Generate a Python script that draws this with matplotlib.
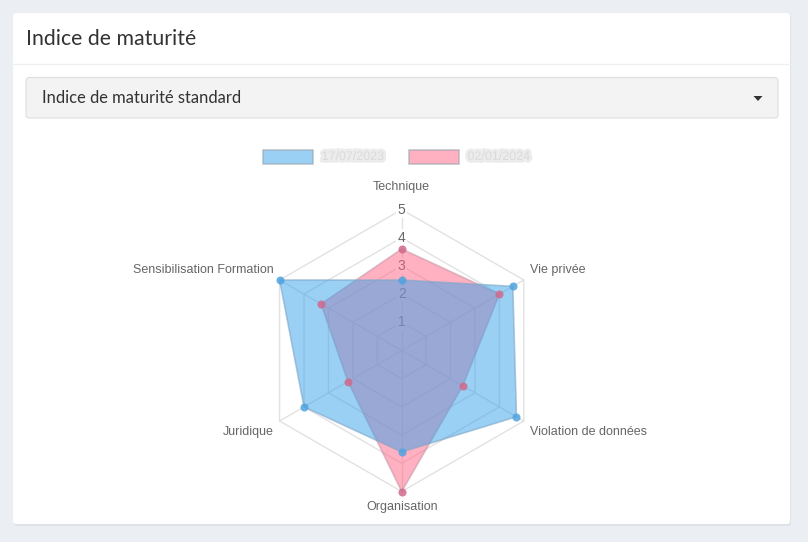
import numpy as np
import matplotlib.pyplot as plt
import matplotlib.patheffects as pe
from matplotlib.patches import FancyBboxPatch, Rectangle, Polygon

# data
axes_labels = ['Technique', 'Vie privée', 'Violation de données',
               'Organisation', 'Juridique', 'Sensibilisation Formation']
series_names = ['17/07/2023', '02/01/2024']
blue_values = [2.5, 4.55, 4.7, 3.6, 4.0, 5.0]
red_values = [3.6, 4.0, 2.5, 5.0, 2.2, 3.3]
tick_values = [1, 2, 3, 4, 5]

W, H = 808, 542
BG = '#ebeef3'
BLUE = (54/255, 162/255, 235/255)
RED = (255/255, 99/255, 132/255)

fig = plt.figure(figsize=(W/100, H/100), dpi=100)
fig.patch.set_facecolor(BG)

# page layer in pixel units
bg = fig.add_axes([0, 0, 1, 1])
bg.set_xlim(0, W)
bg.set_ylim(H, 0)
bg.axis('off')

# card with a small shadow
bg.add_patch(FancyBboxPatch((14, 14), 777, 512, boxstyle='round,pad=0,rounding_size=3',
                            fc='#dfe3e8', ec='none'))
bg.add_patch(FancyBboxPatch((13, 13), 777, 511, boxstyle='round,pad=0,rounding_size=3',
                            fc='white', ec='none'))
bg.plot([13, 790], [64, 64], color='#eef0f2', lw=1)
bg.text(26, 39, 'Indice de maturité', fontsize=15.3, family='Lato',
        color='#333333', va='center', ha='left')

# dropdown
bg.add_patch(FancyBboxPatch((26, 77.5), 752, 40.5, boxstyle='round,pad=0,rounding_size=3',
                            fc='#f3f3f3', ec='#dedede', lw=0.8))
bg.text(41.5, 98, 'Indice de maturité standard', fontsize=11.9, family='Lato',
        color='#333333', va='center', ha='left')
bg.add_patch(Polygon([[753.5, 96], [762.5, 96], [758, 101]], closed=True,
                     fc='#333333', ec='none'))

# legend (labels are blurred in the reference)
leg_items = [(262.5, BLUE, series_names[0]), (408.5, RED, series_names[1])]
for x0, col, name in leg_items:
    bg.add_patch(Rectangle((x0, 149.5), 50, 14.5, fc=(*col, 0.5),
                           ec=(0.6, 0.64, 0.68, 0.6), lw=1.2))
    t = bg.text(x0 + 59, 157, name, fontsize=9, family='Liberation Sans',
                color='#dadada', va='center', ha='left')
    t.set_path_effects([pe.Stroke(linewidth=4, foreground='#ececec'), pe.Normal()])

# radar
cx, cy, R, half = 401.7, 350.5, 141.0, 200.0
rmax = tick_values[-1]
lim = half / R * rmax
ax = fig.add_axes([(cx - half)/W, 1 - (cy + half)/H, 2*half/W, 2*half/H])
ax.set_xlim(-lim, lim)
ax.set_ylim(-lim, lim)
ax.axis('off')

n = len(axes_labels)
theta = np.arange(n) * 2 * np.pi / n
sx, sy = np.sin(theta), np.cos(theta)

grid_col = '#e2e2e2'
for lev in tick_values:
    ax.plot(np.append(sx, sx[0]) * lev, np.append(sy, sy[0]) * lev,
            color=grid_col, lw=1, zorder=1)
for i in range(n):
    ax.plot([0, sx[i] * rmax], [0, sy[i] * rmax], color=grid_col, lw=1, zorder=1)

for lev in tick_values:
    ax.text(0, lev, str(lev), fontsize=10, family='Liberation Sans', color='#666666',
            ha='center', va='center', zorder=2,
            bbox=dict(boxstyle='square,pad=0.1', fc='white', ec='none'))

# datasets: red below, blue on top
for vals, col, edge, z in [(red_values, RED, (0.78, 0.6, 0.66), 3),
                           (blue_values, BLUE, (0.5, 0.65, 0.78), 4)]:
    v = np.array(vals)
    px, py = sx * v, sy * v
    ax.add_patch(Polygon(np.column_stack([px, py]), closed=True,
                         fc=(*col, 0.5), ec=(*edge, 0.6), lw=1.2, zorder=z))
for vals, col in [(red_values, '#d0698c'), (blue_values, '#4fa3e0')]:
    v = np.array(vals)
    ax.plot(sx * v, sy * v, 'o', ms=5.8, color=col, mec='none', alpha=0.85, zorder=5)

# point labels
offsets = [(0, 16), (4.5, 7.5), (4.5, -8), (0, -11), (-4, -8), (-4, 7.5)]
aligns = ['center', 'left', 'left', 'center', 'right', 'right']
for i, lab in enumerate(axes_labels):
    ax.annotate(lab, (sx[i] * rmax, sy[i] * rmax), xytext=offsets[i],
                textcoords='offset points', ha=aligns[i], va='center',
                fontsize=9.0, family='Liberation Sans', color='#666666')

fig.savefig('out.png', dpi=100, facecolor=fig.get_facecolor())
